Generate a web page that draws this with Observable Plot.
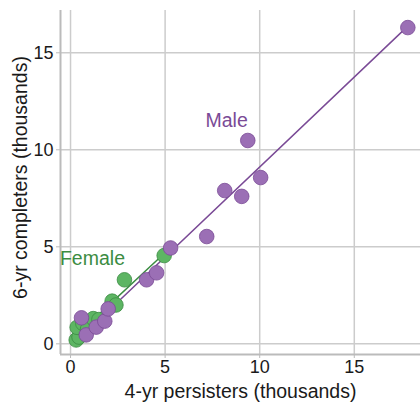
<!DOCTYPE html>
<html>
<head>
<meta charset="utf-8">
<script src="https://cdn.jsdelivr.net/npm/d3@7"></script>
<script src="https://cdn.jsdelivr.net/npm/@observablehq/plot@0.6"></script>
<style>
  html, body { margin: 0; padding: 0; background: #fff; }
  #chart svg { display: block; }
</style>
</head>
<body>
<div id="chart"></div>
<script>
const xTicks = [0, 5, 10, 15];
const yTicks = [0, 5, 10, 15];

const maleX = [0.58, 0.83, 1.36, 1.81, 1.99, 4.02, 4.55, 5.29, 7.2, 8.15, 9.05, 9.37, 10.05, 17.83];
const maleY = [1.34, 0.46, 0.86, 1.17, 1.80, 3.30, 3.66, 4.94, 5.53, 7.90, 7.60, 10.48, 8.57, 16.30];

const femaleX = [0.3, 0.45, 0.35, 0.65, 0.9, 1.2, 1.5, 2.2, 2.4, 2.85, 4.95];
const femaleY = [0.2, 0.35, 0.85, 1.05, 0.75, 1.3, 1.25, 2.2, 2.0, 3.3, 4.55];

const groupLabels = ["Male", "Female"];
const labelX = [8.25, 1.16];
const labelY = [11.5, 4.4];

const male = maleX.map((x, i) => ({x, y: maleY[i]}));
const female = femaleX.map((x, i) => ({x, y: femaleY[i]}));
const labels = groupLabels.map((t, i) => ({t, x: labelX[i], y: labelY[i]}));

const purpleFill = "#9b6fb5", purpleStroke = "#7a4a96";
const greenFill = "#5db563", greenStroke = "#3b8c42";
const gridColor = "#cccccc";
const font = "Liberation Sans, Arial, sans-serif";

const chart = Plot.plot({
  width: 420,
  height: 402,
  marginLeft: 60,
  marginRight: 0,
  marginTop: 10,
  marginBottom: 48,
  style: {fontFamily: font, fontSize: "18px", color: "#1a1a1a", background: "#fff"},
  x: {domain: [-0.53, 18.5], ticks: xTicks},
  y: {domain: [-0.55, 17.18], ticks: yTicks},
  marks: [
    Plot.gridX(xTicks, {stroke: gridColor, strokeOpacity: 1, strokeWidth: 1.5}),
    Plot.gridY(yTicks, {stroke: gridColor, strokeOpacity: 1, strokeWidth: 1.5}),
    Plot.ruleX([-0.53], {stroke: "#bbbbbb", strokeWidth: 2}),
    Plot.ruleY([-0.55], {stroke: "#bbbbbb", strokeWidth: 2}),
    Plot.axisX(xTicks, {tickSize: 4, tickPadding: 2, stroke: "#bbbbbb", fill: "#1a1a1a", fontSize: 18,
      label: null}),
    Plot.axisY(yTicks, {tickSize: 4, tickPadding: 3, stroke: "#bbbbbb", fill: "#1a1a1a", fontSize: 18,
      label: null}),
    Plot.text(["4-yr persisters (thousands)"], {frameAnchor: "bottom", dy: 37, fontSize: 19.5, fill: "#1a1a1a", lineAnchor: "middle"}),
    Plot.text(["6-yr completers (thousands)"], {frameAnchor: "left", dx: -40, dy: -5, rotate: -90, fontSize: 19.5, fill: "#1a1a1a", textAnchor: "middle", lineAnchor: "middle"}),
    Plot.linearRegressionY(female, {x: "x", y: "y", stroke: greenStroke, strokeWidth: 1.5, ci: 0}),
    Plot.linearRegressionY(male, {x: "x", y: "y", stroke: purpleStroke, strokeWidth: 1.5, ci: 0}),
    Plot.dot(female, {x: "x", y: "y", r: 7.3, fill: greenFill, stroke: greenStroke, strokeWidth: 0.8}),
    Plot.dot(male, {x: "x", y: "y", r: 7.3, fill: purpleFill, stroke: purpleStroke, strokeWidth: 0.8}),
    Plot.text(labels.slice(0, 1), {x: "x", y: "y", text: "t", fill: purpleStroke, fontSize: 19.5}),
    Plot.text(labels.slice(1), {x: "x", y: "y", text: "t", fill: greenStroke, fontSize: 19.5})
  ]
});
document.getElementById("chart").appendChild(chart);
</script>
</body>
</html>
